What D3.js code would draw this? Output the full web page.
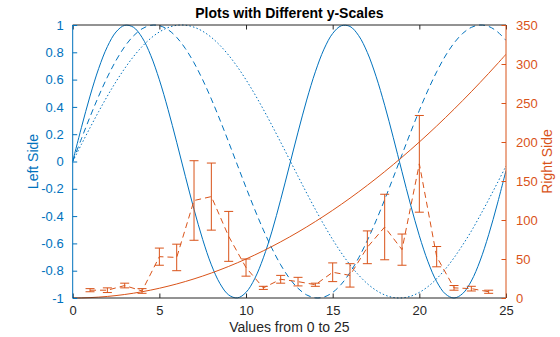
<!DOCTYPE html>
<html>
<head>
<meta charset="utf-8">
<script src="https://cdn.jsdelivr.net/npm/d3@7"></script>
<style>
  html, body { margin: 0; padding: 0; background: #fff; }
  svg { display: block; font-family: "Liberation Sans", Arial, Helvetica, sans-serif; }
</style>
</head>
<body>
<svg id="chart" width="560" height="337"></svg>
<script>
// Sample positions for the smooth curves (0 to 25, step 0.5)
const xs = d3.range(0, 25.0001, 0.5);

// Left-axis curves
const waveSolid = [0, 0.2474, 0.4794, 0.6816, 0.8415, 0.9490, 0.9975, 0.9840, 0.9093, 0.7781,
  0.5985, 0.3817, 0.1411, -0.1082, -0.3508, -0.5716, -0.7568, -0.8950, -0.9775, -0.9993,
  -0.9589, -0.8589, -0.7055, -0.5100, -0.2794, -0.0332, 0.2151, 0.4500, 0.6570, 0.8233,
  0.9380, 0.9946, 0.9894, 0.9219, 0.7985, 0.6247, 0.4121, 0.1739, -0.0752, -0.3195,
  -0.5440, -0.7346, -0.8797, -0.9701, -1.0000, -0.9677, -0.8755, -0.7288, -0.5366, -0.3111, -0.0663];
const waveDashed = [0, 0.1659, 0.3272, 0.4794, 0.6184, 0.7402, 0.8415, 0.9195, 0.9719, 0.9975,
  0.9954, 0.9657, 0.9093, 0.8275, 0.7231, 0.5985, 0.4573, 0.3034, 0.1411, -0.0251,
  -0.1905, -0.3508, -0.5012, -0.6378, -0.7568, -0.8546, -0.9290, -0.9775, -0.9990, -0.9927,
  -0.9589, -0.8986, -0.8134, -0.7055, -0.5782, -0.4349, -0.2794, -0.1162, 0.0501, 0.2151,
  0.3742, 0.5228, 0.6570, 0.7729, 0.8675, 0.9380, 0.9826, 0.9998, 0.9894, 0.9511, 0.8871];
const waveDotted = [0, 0.1247, 0.2474, 0.3663, 0.4794, 0.5851, 0.6816, 0.7675, 0.8415, 0.9023,
  0.9490, 0.9809, 0.9975, 0.9985, 0.9840, 0.9541, 0.9093, 0.8504, 0.7781, 0.6938,
  0.5985, 0.4940, 0.3817, 0.2634, 0.1411, 0.0166, -0.1082, -0.2313, -0.3508, -0.4648,
  -0.5716, -0.6696, -0.7568, -0.8323, -0.8950, -0.9435, -0.9775, -0.9962, -0.9993, -0.9868,
  -0.9589, -0.9161, -0.8589, -0.7885, -0.7055, -0.6115, -0.5100, -0.3969, -0.2794, -0.1575, -0.0332];

// Right-axis curve
const growth = [0, 0.125, 0.5, 1.125, 2, 3.125, 4.5, 6.125, 8, 10.125, 12.5, 15.125, 18, 21.125,
  24.5, 28.125, 32, 36.125, 40.5, 45.125, 50, 55.125, 60.5, 66.125, 72, 78.125, 84.5, 91.125,
  98, 105.125, 112.5, 120.125, 128, 136.125, 144.5, 153.125, 162, 171.125, 180.5, 190.125,
  200, 210.125, 220.5, 231.125, 242, 253.125, 264.5, 276.125, 288, 300.125, 312.5];

// Right-axis measurements with error bars
const measX   = [1, 2, 3, 4, 5, 6, 7, 8, 9, 10, 11, 12, 13, 14, 15, 16, 17, 18, 19, 20, 21, 22, 23, 24];
const measY   = [10, 10, 16, 9, 53, 52, 125, 130, 79, 39, 13, 24, 21, 17, 33, 29, 65, 91, 62, 172, 53, 13, 12, 8];
const measErr = [2, 3, 3, 3, 11, 17, 51, 43, 32, 11, 2, 5, 5.5, 2, 12, 15, 21, 42, 20, 62, 13, 3, 3, 2];

// Tick labels
const xTicks = [0, 5, 10, 15, 20, 25];
const leftTicks = [-1, -0.8, -0.6, -0.4, -0.2, 0, 0.2, 0.4, 0.6, 0.8, 1];
const rightTicks = [0, 50, 100, 150, 200, 250, 300, 350];

const BLUE = "#0072BD", ORANGE = "#D95319";
const L = 72.7, R = 506, T = 25, B = 298;
const tickLen = 4.5;

const svg = d3.select("#chart");
const x = d3.scaleLinear().domain([0, 25]).range([L, R]);
const yL = d3.scaleLinear().domain([-1, 1]).range([B, T]);
const yR = d3.scaleLinear().domain([0, 350]).range([B, T]);

const plot = svg.append("g");
plot.append("clipPath").attr("id", "clip")
  .append("rect").attr("x", L).attr("y", T - 1).attr("width", R - L).attr("height", B - T + 2);

const curves = plot.append("g").attr("clip-path", "url(#clip)");

function drawCurve(vals, scale, color, dash) {
  const line = d3.line().x((d, i) => x(xs[i])).y(d => scale(d)).curve(d3.curveCatmullRom);
  curves.append("path").datum(vals)
    .attr("d", line).attr("fill", "none").attr("stroke", color)
    .attr("stroke-width", 1).attr("stroke-dasharray", dash);
}
drawCurve(waveSolid, yL, BLUE, null);
drawCurve(waveDashed, yL, BLUE, "6,4");
drawCurve(waveDotted, yL, BLUE, "1.5,2.2");
drawCurve(growth, yR, ORANGE, null);

// Error bars and dashed connecting line
const meas = measX.map((v, i) => ({ x: v, y: measY[i], e: measErr[i] }));
curves.append("path").datum(meas)
  .attr("d", d3.line().x(d => x(d.x)).y(d => yR(d.y)))
  .attr("fill", "none").attr("stroke", ORANGE).attr("stroke-width", 1).attr("stroke-dasharray", "6,4");
const eb = curves.append("g").attr("stroke", ORANGE).attr("stroke-width", 1).attr("fill", "none");
const cap = 4.5;
meas.forEach(d => {
  const cx = x(d.x), y0 = yR(d.y - d.e), y1 = yR(d.y + d.e);
  eb.append("line").attr("x1", cx).attr("x2", cx).attr("y1", y0).attr("y2", y1);
  eb.append("line").attr("x1", cx - cap).attr("x2", cx + cap).attr("y1", y0).attr("y2", y0);
  eb.append("line").attr("x1", cx - cap).attr("x2", cx + cap).attr("y1", y1).attr("y2", y1);
});

// Axes
const fontSize = 13;
const axisBottomG = svg.append("g").attr("transform", `translate(0,${B})`)
  .call(d3.axisBottom(x).tickValues(xTicks).tickSizeInner(-tickLen).tickSizeOuter(0).tickPadding(8));
const axisTopG = svg.append("g").attr("transform", `translate(0,${T})`)
  .call(d3.axisTop(x).tickValues(xTicks).tickSizeInner(-tickLen).tickSizeOuter(0).tickFormat(""));
[axisBottomG, axisTopG].forEach(g => {
  g.selectAll("path,line").attr("stroke", "#262626");
  g.select(".domain").attr("d", `M${L},0H${R}`);
  g.selectAll("text").attr("fill", "#262626").style("font-size", fontSize + "px").attr("font-family", null);
});

const axisLeftG = svg.append("g").attr("transform", `translate(${L},0)`)
  .call(d3.axisLeft(yL).tickValues(leftTicks).tickSizeInner(-tickLen).tickSizeOuter(0).tickPadding(9)
    .tickFormat(d => d3.format("~g")(d).replace("\u2212", "-")));
const axisRightG = svg.append("g").attr("transform", `translate(${R},0)`)
  .call(d3.axisRight(yR).tickValues(rightTicks).tickSizeInner(-tickLen).tickSizeOuter(0).tickPadding(10));
[[axisLeftG, BLUE], [axisRightG, ORANGE]].forEach(([g, c]) => {
  g.selectAll("path,line").attr("stroke", c);
  g.select(".domain").attr("d", `M0,${T}V${B}`);
  g.selectAll("text").attr("fill", c).style("font-size", fontSize + "px").attr("font-family", null);
});
svg.selectAll(".domain").attr("stroke-width", 1);

// Titles and axis labels
svg.append("text").attr("x", (L + R) / 2).attr("y", 18).attr("text-anchor", "middle")
  .style("font-size", "14px").style("font-weight", "bold").attr("fill", "#000")
  .text("Plots with Different y-Scales");
svg.append("text").attr("x", (L + R) / 2).attr("y", 332).attr("text-anchor", "middle")
  .style("font-size", "14px").attr("fill", "#262626")
  .text("Values from 0 to 25");
svg.append("text").attr("transform", `translate(38,${(T + B) / 2}) rotate(-90)`)
  .attr("text-anchor", "middle").style("font-size", "14px").attr("fill", BLUE)
  .text("Left Side");
svg.append("text").attr("transform", `translate(552,${(T + B) / 2}) rotate(-90)`)
  .attr("text-anchor", "middle").style("font-size", "14px").attr("fill", ORANGE)
  .text("Right Side");
</script>
</body>
</html>
